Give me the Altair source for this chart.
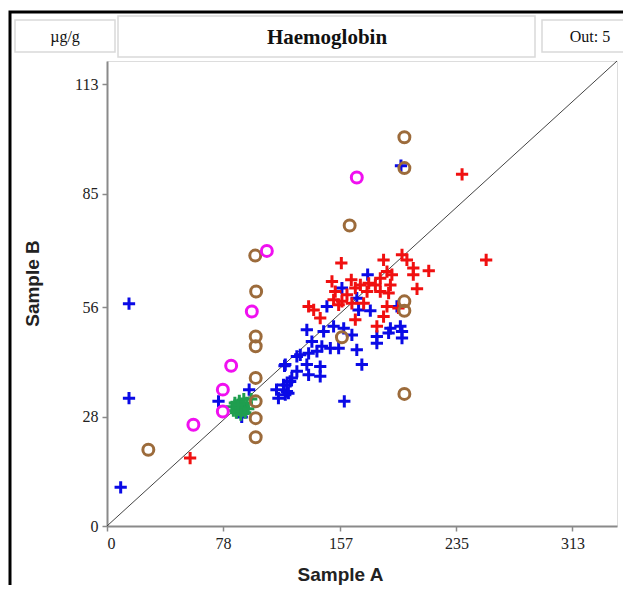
import altair as alt
import pandas as pd

# ---------------- data ----------------
X_MAX = 343
Y_MAX = 119
x_ticks = [0, 78, 157, 235, 313]
y_ticks = [0, 28, 56, 85, 113]

blue_x = [9.2, 14.8, 14.8, 75, 95.6, 90.6, 114, 115.3, 121, 122, 124.3, 119.4, 127.7, 175.3, 158, 168,
          147.9, 169.2, 177.1, 195, 134.4, 152.4, 159.2, 145.7, 164.7, 190.6, 197.3, 198.4, 189.4, 181.5,
          181.5, 198.4, 137.8, 144.5, 150.2, 155.8, 168, 130, 135.6, 141.2, 119.9, 134.4, 143.4, 171.4,
          127.7, 135.6, 143.4, 123.2, 118.7, 121, 119.9, 197.7, 159.6]
blue_y = [9.9, 56.9, 32.7, 31.9, 34.9, 27.9, 34.9, 32.7, 36.1, 34, 37.9, 41, 43.4, 64.3, 60.9, 58.3,
          56.2, 55.3, 55.1, 56.2, 50.2, 51.1, 50.6, 49.8, 48.9, 50.6, 51.1, 49.8, 49.4, 48.5,
          46.8, 48.1, 47.2, 46, 45.5, 45.5, 45.1, 43.8, 44.2, 44.7, 41.3, 41.3, 40.8, 41.3,
          39.6, 38.7, 38.3, 37, 36.1, 34.4, 33.6, 92.2, 31.9]

red_x = [55.9, 157.6, 198.4, 201.7, 186, 206, 216.4, 188.3, 191.6, 206, 183.8, 164.3, 151.3, 176, 180.5,
         190.6, 170.4, 167, 174.9, 183.8, 208.5, 153.5, 189.4, 161.4, 152.4, 158, 155.8, 164.7, 172.6,
         135.6, 139, 188.3, 143.4, 167, 186, 181.5, 196, 238.8, 255]
red_y = [17.4, 67.3, 69.4, 68.1, 68.1, 66, 65.3, 65.1, 64.3, 64.3, 63.4, 63, 62.6, 62.1, 61.7,
         61.7, 61.7, 60.9, 60, 60, 60.7, 60, 59.6, 59.2, 57.9, 57.5, 56.6, 57, 57,
         56.2, 55.3, 56.2, 53.2, 52.8, 53.6, 51.1, 55.8, 90, 68.1]

green_x = [84, 86, 88, 90, 92, 94, 87, 91, 89, 93, 85, 95, 90, 88, 92, 97]
green_y = [30.5, 31.5, 30, 31, 30.5, 31.5, 29, 29.5, 32, 29, 29.5, 30, 28.5, 31, 32.5, 32.5]

brown_x = [27.8, 99.7, 100.3, 100, 100, 100, 100, 100, 100, 200, 200, 163.2, 200, 200, 158, 200]
brown_y = [19.5, 69.2, 60, 48.5, 46, 37.9, 31.9, 27.6, 22.7, 99.5, 91.6, 76.9, 57.5, 55.1, 48.3, 33.8]

magenta_x = [107.5, 97.4, 83.5, 77.9, 77.9, 58.1, 168]
magenta_y = [70.4, 54.9, 41, 34.9, 29.3, 25.9, 89.2]

unit_label = "µg/g"
title_label = "Haemoglobin"
out_label = "Out: 5"

# ---------------- chart ----------------
W, H = 510, 465
PAD = {"left": 99, "top": 53, "right": 6, "bottom": 59}

x_scale = alt.Scale(domain=[0, X_MAX], nice=False, zero=True)
y_scale = alt.Scale(domain=[0, Y_MAX], nice=False, zero=True)

axis_common = dict(
    grid=False, labelFont="Liberation Serif", labelFontSize=16, labelColor="#222",
    domainColor="#8a8a8a", domainWidth=2, tickColor="#8a8a8a", tickWidth=1.5, tickSize=5,
    titleFont="Liberation Sans", titleFontSize=19, titleFontWeight="bold", titleColor="#222",
    labelPadding=4,
)
x_axis = alt.Axis(values=x_ticks, title="Sample A", titleX=233, titleY=54,
                  titleAnchor="middle", titleBaseline="alphabetic", **axis_common)
y_axis = alt.Axis(values=y_ticks, title="Sample B", titleX=-69, titleY=222, titleAngle=270,
                  titleAlign="center", titleBaseline="alphabetic", **axis_common)

X = alt.X("a:Q", scale=x_scale, axis=x_axis)
Y = alt.Y("b:Q", scale=y_scale, axis=y_axis)


def df(xs, ys):
    return pd.DataFrame({"a": xs, "b": ys})


plus_path = "M-1,0L1,0M0,-1L0,1"


def crosses(xs, ys, color):
    return alt.Chart(df(xs, ys)).mark_point(
        shape=plus_path, filled=False, stroke=color, strokeWidth=3, size=150, opacity=1
    ).encode(x=X, y=Y)


def rings(xs, ys, color):
    return alt.Chart(df(xs, ys)).mark_point(
        shape="circle", filled=False, stroke=color, strokeWidth=3, size=120, opacity=1
    ).encode(x=X, y=Y)


diag = alt.Chart(df([0, X_MAX], [0, Y_MAX])).mark_line(color="#444", strokeWidth=1).encode(x=X, y=Y)

one = pd.DataFrame({"k": [0]})


def box(x0, x1, y0, y1):
    return alt.Chart(one).mark_rect(fill="white", stroke="#d9d9d9", strokeWidth=1.5).encode(
        x=alt.value(x0), x2=alt.value(x1), y=alt.value(y0), y2=alt.value(y1))


def label(x, y, txt, size, weight="normal"):
    return alt.Chart(one).mark_text(font="Liberation Serif", fontSize=size, fontWeight=weight,
                                    color="#111", align="center", baseline="middle").encode(
        x=alt.value(x), y=alt.value(y), text=alt.value(txt))


# outer frame: only its top and left edges fall inside the picture
frame = alt.Chart(one).mark_rect(fill="transparent", stroke="black", strokeWidth=3).encode(
    x=alt.value(-97), x2=alt.value(560), y=alt.value(-49), y2=alt.value(560))

chart = alt.layer(
    frame,
    box(-92, 8, -41, -9), box(11, 428, -45, -4), box(435, 560, -41, -9),
    label(-42, -24, unit_label, 16), label(220, -23, title_label, 21, "bold"), label(483, -24, out_label, 16),
    diag,
    crosses(blue_x, blue_y, "#0a0ae6"),
    crosses(red_x, red_y, "#f01010"),
    crosses(green_x, green_y, "#1f9e4f"),
    rings(brown_x, brown_y, "#9c6b3b"),
    rings(magenta_x, magenta_y, "#f010f0"),
).properties(
    width=W, height=H,
    autosize=alt.AutoSizeParams(type="none"),
    padding=PAD,
).configure_view(stroke=None).configure(background="white")

chart.save("out.html", embed_options={"renderer": "svg", "actions": False})
